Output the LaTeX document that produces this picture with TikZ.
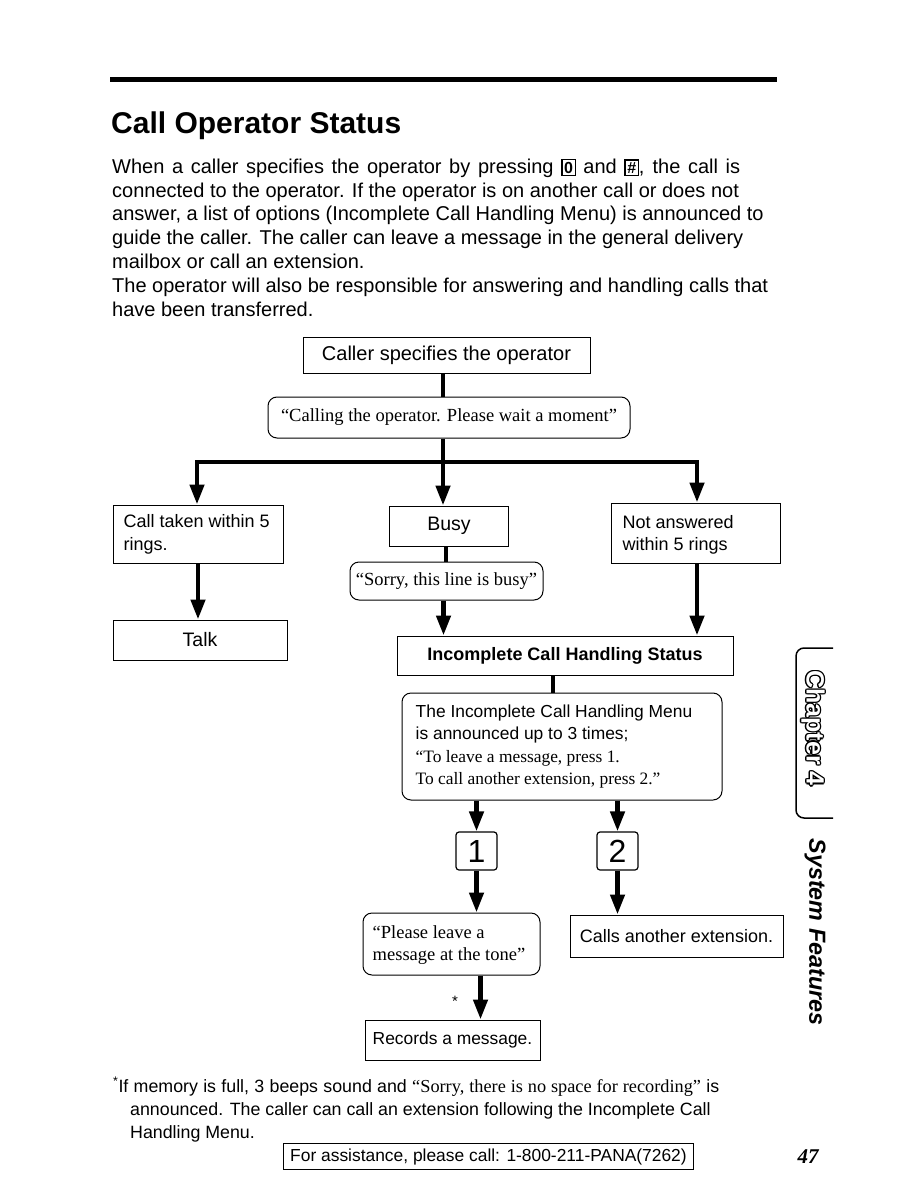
\documentclass[tikz,border=0pt]{standalone}
\usepackage{fontspec}
\setmainfont{Liberation Sans}
\newfontfamily\serifx{Liberation Serif}
\usetikzlibrary{arrows.meta,calc}
\newcommand\keyb[1]{{\setlength\fboxsep{1.5pt}\setlength\fboxrule{1.3pt}\fbox{\fontsize{16}{16}\selectfont\bfseries #1}}}
\newcommand\outlinetext[3]{% #1 name prefix, #2 position, #3 text
  \foreach \dx/\dy [count=\i] in {-1.3/0,1.3/0,0/-1.3,0/1.3,-0.95/-0.95,0.95/0.95,-0.95/0.95,0.95/-0.95}{
    \node[tab, black] (#1\i) at ($#2+(\dx,\dy)$) {#3};}
  \node[tab, white] (#1c) at #2 {#3};}
\begin{document}
\begin{tikzpicture}[x=1pt,y=-1pt,
 box/.style={draw,line width=1pt,inner sep=0pt,font=\fontsize{18}{22}\selectfont,align=center},
 rbox/.style={box,rounded corners=9pt},
 txt/.style={anchor=west,align=left,inner sep=0pt},
 link/.style={line width=4.5pt},
 arr/.style={line width=4.5pt,-{Triangle[width=14pt,length=20pt]}},
 para/.style={anchor=base west,inner sep=0pt,font=\fontsize{20}{24}\selectfont},
 qt/.style={font=\serifx\fontsize{18.5}{22}\selectfont},
 tab/.style={rotate=-90,inner sep=0pt,font=\bfseries\fontsize{25}{25}\selectfont},
 key/.style={draw,line width=1.2pt,rounded corners=3pt,minimum width=41pt,minimum height=38pt,inner sep=0pt,font=\fontsize{32}{32}\selectfont}
]
\useasboundingbox[fill=white] (0,0) rectangle (918,1188);

% top rule and title
\draw[line width=5pt] (110,80) -- (777,80);
\node[anchor=base west,inner sep=0pt,font=\bfseries\fontsize{30}{36}\selectfont] (title) at (111,134) {Call Operator Status};

% paragraph
\node[para] (p1) at (112,173) {\hbox to 628pt{When a caller specifies the operator by pressing \keyb{0} and \keyb{\#}, the call is}};
\node[para] (p2) at (112,197) {connected to the operator. If the operator is on another call or does not};
\node[para] (p3) at (112,220) {answer, a list of options (Incomplete Call Handling Menu) is announced to};
\node[para] (p4) at (112,244) {guide the caller. The caller can leave a message in the general delivery};
\node[para] (p5) at (112,268) {mailbox or call an extension.};
\node[para] (p6) at (112,292) {The operator will also be responsible for answering and handling calls that};
\node[para] (p7) at (112,316) {have been transferred.};

% flowchart nodes
\node[box,minimum width=287pt,minimum height=36pt,font=\fontsize{20}{22}\selectfont] (spec) at (446.5,355) {Caller specifies the operator};
\node[rbox,qt,minimum width=362pt,minimum height=41pt] (wait) at (449,417.5) {“Calling the operator. Please wait a moment”};
\coordinate (split) at (443,462);

\node[box,minimum width=170pt,minimum height=58pt] (taken) at (198,534) {};
\node[txt,font=\fontsize{18}{23}\selectfont] (takent) at ([xshift=11pt]taken.west) {Call taken within 5\\rings.};
\node[box,minimum width=119pt,minimum height=40pt,font=\fontsize{19.5}{22}\selectfont] (busy) at (449,526) {Busy};
\node[box,minimum width=169pt,minimum height=60pt] (noans) at (695.5,533) {};
\node[txt,font=\fontsize{18}{22}\selectfont] (noanst) at ([xshift=12pt,yshift=-2pt]noans.west) {Not answered\\within 5 rings};

\node[box,minimum width=174pt,minimum height=40pt,font=\fontsize{19.5}{22}\selectfont] (talk) at (200,640) {Talk};
\node[rbox,qt,minimum width=193pt,minimum height=38pt] (sorry) at (446.5,581) {“Sorry, this line is busy”};
\node[box,minimum width=336pt,minimum height=39pt,font=\bfseries\fontsize{18}{21}\selectfont] (incs) at (565,655.5) {Incomplete Call Handling Status};

\node[rbox,minimum width=320pt,minimum height=107pt] (menu) at (562,746.5) {};
\node[txt,font=\fontsize{17.4}{22.5}\selectfont] (menut) at ([xshift=14pt]menu.west)
 {The Incomplete Call Handling Menu\\is announced up to 3 times;\\{\serifx\fontsize{17.4}{22.5}\selectfont “To leave a message, press 1.}\\{\serifx\fontsize{17.4}{22.5}\selectfont To call another extension, press 2.”}};

\node[key] (k1) at (476.5,851) {1};
\node[key] (k2) at (617.5,851) {2};

\node[rbox,minimum width=177pt,minimum height=62pt] (leave) at (451.5,944) {};
\node[txt,font=\serifx\fontsize{18.5}{22.5}\selectfont] (leavet) at ([xshift=10pt,yshift=-1pt]leave.west) {“Please leave a\\message at the tone”};
\node[box,minimum width=213pt,minimum height=42pt] (calls) at (676.5,936) {Calls another extension.};
\node[box,minimum width=175pt,minimum height=40pt,font=\fontsize{17.4}{22}\selectfont] (records) at (452.5,1040) {Records a message.};
\node[inner sep=0pt,font=\fontsize{15}{15}\selectfont] (ast) at (455,1001) {*};

% connectors
\draw[link] (spec.south -| split) -- (wait.north -| split);
\draw[link] (wait.south -| split) -- (split);
\draw[arr] (split) -| ([xshift=-1pt]taken.north);
\draw[arr] (split) -- (busy.north -| split);
\draw[arr] (split) -| ([xshift=1.5pt]noans.north);
\draw[arr] (taken.south) -- (taken.south |- talk.north);
\draw[link] ([xshift=-3pt]busy.south) -- ([xshift=-3pt]busy.south |- sorry.north);
\draw[arr] ([xshift=-3pt]sorry.south) -- ([xshift=-3pt]sorry.south |- incs.north);
\draw[arr] ([xshift=1.5pt]noans.south) -- ([xshift=1.5pt]noans.south |- incs.north);
\draw[link] ([xshift=-12pt]incs.south) -- ([xshift=-12pt]incs.south |- menu.north);
\draw[arr] (menu.south -| k1) -- (k1.north);
\draw[arr] (menu.south -| k2) -- (k2.north);
\draw[arr] (k1.south) -- (k1.south |- leave.north);
\draw[arr] (k2.south) -- (k2.south |- calls.north);
\draw[arr] ([xshift=4pt]leave.south -| k1) -- ([xshift=4pt]records.north -| k1);

% footnote
\node[anchor=base west,inner sep=0pt,font=\fontsize{17.8}{22}\selectfont] (f1) at (113,1092) {\hbox to 606pt{\textsuperscript{*}If memory is full, 3 beeps sound and {\serifx\fontsize{18.3}{22}\selectfont “Sorry, there is no space for recording”} is}};
\node[anchor=base west,inner sep=0pt,font=\fontsize{17.8}{22}\selectfont] (f2) at (130,1115) {announced. The caller can call an extension following the Incomplete Call};
\node[anchor=base west,inner sep=0pt,font=\fontsize{17.8}{22}\selectfont] (f3) at (130,1138) {Handling Menu.};

% footer
\node[draw,line width=1pt,inner xsep=7pt,minimum height=26pt,font=\fontsize{17.4}{18}\selectfont] (help) at (488.5,1156.5) {For assistance, please call: 1-800-211-PANA(7262)};
\node[inner sep=0pt,font=\serifx\bfseries\itshape\fontsize{21}{21}\selectfont] (pg) at (808,1157) {47};

% side tab
\draw[line width=1.5pt,rounded corners=8pt] (833,648) -- (796,648) -- (796,818) -- (833,818);
\outlinetext{ch}{(813,728)}{Chapter 4}
\node[tab,font=\bfseries\itshape\fontsize{23.3}{23.3}\selectfont] (sysf) at (815,932) {System Features};
\end{tikzpicture}
\end{document}
